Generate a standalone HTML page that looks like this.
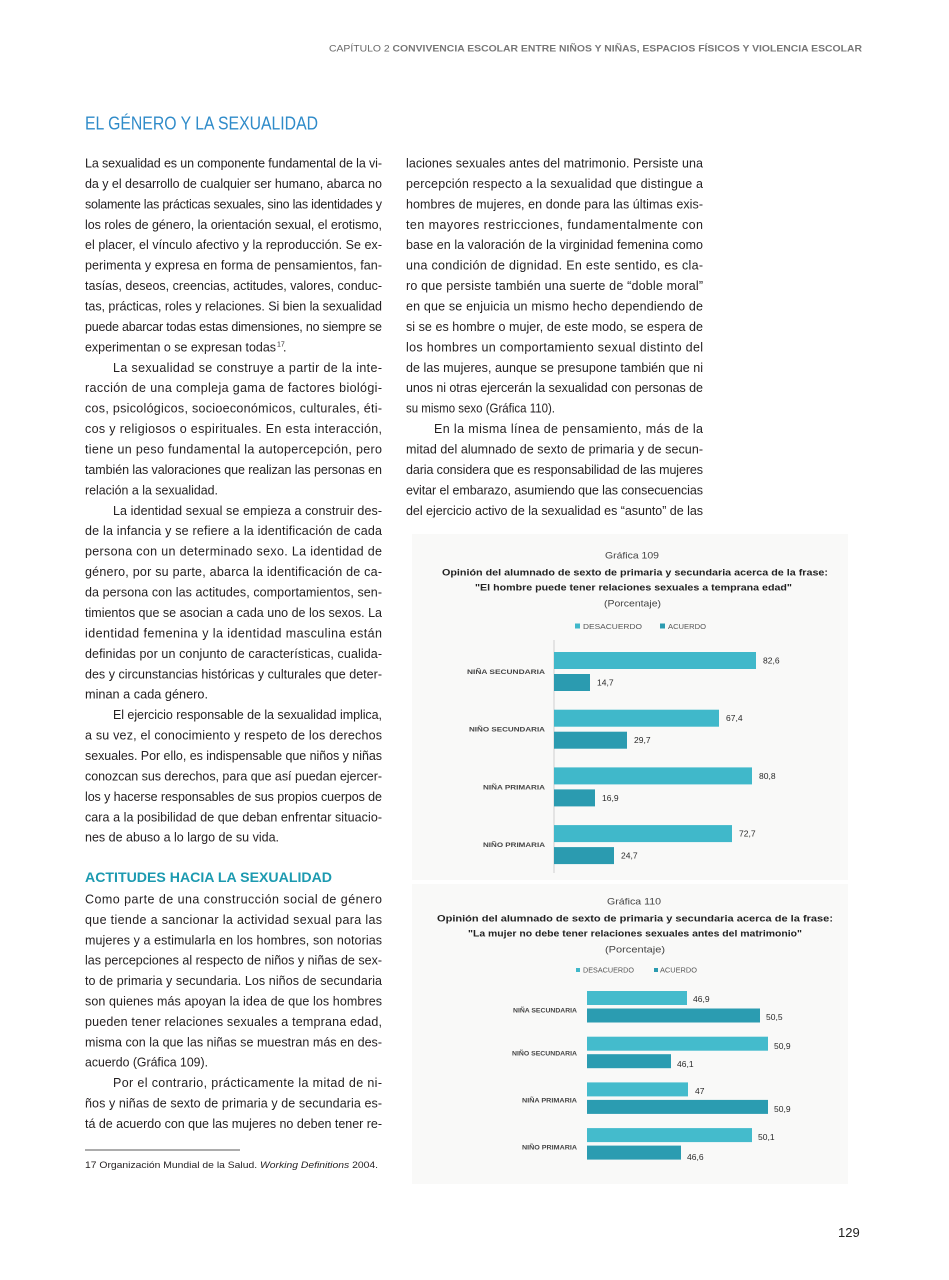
<!DOCTYPE html>
<html><head><meta charset="utf-8"><style>
html,body{margin:0;padding:0;background:#fff;}
svg{display:block;}
text{font-family:"Liberation Sans",sans-serif;}
.b{font-size:12.5px;fill:#231f20;}
.cl{font-size:6.8px;font-weight:bold;fill:#444;}
.v{font-size:8.5px;fill:#2a2a2a;}
</style></head><body>
<svg width="949" height="1280" viewBox="0 0 949 1280" xmlns="http://www.w3.org/2000/svg">
<rect width="949" height="1280" fill="#fff"/>
<!-- header -->
<text x="329" y="51.5" font-size="9.5" fill="#666" textLength="533" lengthAdjust="spacingAndGlyphs">CAPÍTULO 2 <tspan font-weight="bold" fill="#777">CONVIVENCIA ESCOLAR ENTRE NIÑOS Y NIÑAS, ESPACIOS FÍSICOS Y VIOLENCIA ESCOLAR</tspan></text>
<text x="85" y="129.5" font-size="18" fill="#2f8bc9" textLength="233" lengthAdjust="spacingAndGlyphs">EL GÉNERO Y LA SEXUALIDAD</text>

<!-- left column -->
<g class="b">
<text x="85" y="167.5" textLength="297" lengthAdjust="spacing">La sexualidad es un componente fundamental de la vi-</text>
<text x="85" y="187.9" textLength="297" lengthAdjust="spacing">da y el desarrollo de cualquier ser humano, abarca no</text>
<text x="85" y="208.4" textLength="297" lengthAdjust="spacing">solamente las prácticas sexuales, sino las identidades y</text>
<text x="85" y="228.8" textLength="297" lengthAdjust="spacing">los roles de género, la orientación sexual, el erotismo,</text>
<text x="85" y="249.2" textLength="297" lengthAdjust="spacing">el placer, el vínculo afectivo y la reproducción. Se ex-</text>
<text x="85" y="269.7" textLength="297" lengthAdjust="spacing">perimenta y expresa en forma de pensamientos, fan-</text>
<text x="85" y="290.1" textLength="297" lengthAdjust="spacing">tasías, deseos, creencias, actitudes, valores, conduc-</text>
<text x="85" y="310.5" textLength="297" lengthAdjust="spacing">tas, prácticas, roles y relaciones. Si bien la sexualidad</text>
<text x="85" y="330.9" textLength="297" lengthAdjust="spacing">puede abarcar todas estas dimensiones, no siempre se</text>
<text x="85" y="351.4" textLength="191" lengthAdjust="spacingAndGlyphs">experimentan o se expresan todas</text>
<text x="277" y="346.5" font-size="7">17</text><text x="283" y="351.4">.</text>

<text x="113" y="371.8" textLength="269" lengthAdjust="spacing">La sexualidad se construye a partir de la inte-</text>
<text x="85" y="392.2" textLength="297" lengthAdjust="spacing">racción de una compleja gama de factores biológi-</text>
<text x="85" y="412.7" textLength="297" lengthAdjust="spacing">cos, psicológicos, socioeconómicos, culturales, éti-</text>
<text x="85" y="433.1" textLength="297" lengthAdjust="spacing">cos y religiosos o espirituales. En esta interacción,</text>
<text x="85" y="453.5" textLength="297" lengthAdjust="spacing">tiene un peso fundamental la autopercepción, pero</text>
<text x="85" y="474.0" textLength="297" lengthAdjust="spacing">también las valoraciones que realizan las personas en</text>
<text x="85" y="494.4" textLength="133" lengthAdjust="spacingAndGlyphs">relación a la sexualidad.</text>

<text x="113" y="514.8" textLength="269" lengthAdjust="spacing">La identidad sexual se empieza a construir des-</text>
<text x="85" y="535.2" textLength="297" lengthAdjust="spacing">de la infancia y se refiere a la identificación de cada</text>
<text x="85" y="555.7" textLength="297" lengthAdjust="spacing">persona con un determinado sexo. La identidad de</text>
<text x="85" y="576.1" textLength="297" lengthAdjust="spacing">género, por su parte, abarca la identificación de ca-</text>
<text x="85" y="596.5" textLength="297" lengthAdjust="spacing">da persona con las actitudes, comportamientos, sen-</text>
<text x="85" y="617.0" textLength="297" lengthAdjust="spacing">timientos que se asocian a cada uno de los sexos. La</text>
<text x="85" y="637.4" textLength="297" lengthAdjust="spacing">identidad femenina y la identidad masculina están</text>
<text x="85" y="657.8" textLength="297" lengthAdjust="spacing">definidas por un conjunto de características, cualida-</text>
<text x="85" y="678.3" textLength="297" lengthAdjust="spacing">des y circunstancias históricas y culturales que deter-</text>
<text x="85" y="698.7" textLength="123" lengthAdjust="spacingAndGlyphs">minan a cada género.</text>

<text x="113" y="719.1" textLength="269" lengthAdjust="spacing">El ejercicio responsable de la sexualidad implica,</text>
<text x="85" y="739.5" textLength="297" lengthAdjust="spacing">a su vez, el conocimiento y respeto de los derechos</text>
<text x="85" y="760.0" textLength="297" lengthAdjust="spacing">sexuales. Por ello, es indispensable que niños y niñas</text>
<text x="85" y="780.4" textLength="297" lengthAdjust="spacing">conozcan sus derechos, para que así puedan ejercer-</text>
<text x="85" y="800.8" textLength="297" lengthAdjust="spacing">los y hacerse responsables de sus propios cuerpos de</text>
<text x="85" y="821.3" textLength="297" lengthAdjust="spacing">cara a la posibilidad de que deban enfrentar situacio-</text>
<text x="85" y="841.7" textLength="194" lengthAdjust="spacingAndGlyphs">nes de abuso a lo largo de su vida.</text>
</g>

<text x="85" y="882" font-size="13.5" font-weight="bold" fill="#1c9ab0" textLength="247" lengthAdjust="spacingAndGlyphs">ACTITUDES HACIA LA SEXUALIDAD</text>

<g class="b">
<text x="85" y="903.5" textLength="297" lengthAdjust="spacing">Como parte de una construcción social de género</text>
<text x="85" y="923.9" textLength="297" lengthAdjust="spacing">que tiende a sancionar la actividad sexual para las</text>
<text x="85" y="944.3" textLength="297" lengthAdjust="spacing">mujeres y a estimularla en los hombres, son notorias</text>
<text x="85" y="964.7" textLength="297" lengthAdjust="spacing">las percepciones al respecto de niños y niñas de sex-</text>
<text x="85" y="985.1" textLength="297" lengthAdjust="spacing">to de primaria y secundaria. Los niños de secundaria</text>
<text x="85" y="1005.5" textLength="297" lengthAdjust="spacing">son quienes más apoyan la idea de que los hombres</text>
<text x="85" y="1025.9" textLength="297" lengthAdjust="spacing">pueden tener relaciones sexuales a temprana edad,</text>
<text x="85" y="1046.3" textLength="297" lengthAdjust="spacing">misma con la que las niñas se muestran más en des-</text>
<text x="85" y="1066.7" textLength="123" lengthAdjust="spacingAndGlyphs">acuerdo (Gráfica 109).</text>
<text x="113" y="1087.1" textLength="269" lengthAdjust="spacing">Por el contrario, prácticamente la mitad de ni-</text>
<text x="85" y="1107.5" textLength="297" lengthAdjust="spacing">ños y niñas de sexto de primaria y de secundaria es-</text>
<text x="85" y="1127.9" textLength="297" lengthAdjust="spacing">tá de acuerdo con que las mujeres no deben tener re-</text>
</g>

<line x1="85" y1="1150" x2="240" y2="1150" stroke="#222" stroke-width="0.8"/>
<text x="85" y="1168" font-size="9.5" fill="#231f20" textLength="293" lengthAdjust="spacingAndGlyphs">17 Organización Mundial de la Salud. <tspan font-style="italic">Working Definitions</tspan> 2004.</text>

<!-- right column -->
<g class="b">
<text x="406" y="167.5" textLength="297" lengthAdjust="spacing">laciones sexuales antes del matrimonio. Persiste una</text>
<text x="406" y="187.9" textLength="297" lengthAdjust="spacing">percepción respecto a la sexualidad que distingue a</text>
<text x="406" y="208.4" textLength="297" lengthAdjust="spacing">hombres de mujeres, en donde para las últimas exis-</text>
<text x="406" y="228.8" textLength="297" lengthAdjust="spacing">ten mayores restricciones, fundamentalmente con</text>
<text x="406" y="249.2" textLength="297" lengthAdjust="spacing">base en la valoración de la virginidad femenina como</text>
<text x="406" y="269.7" textLength="297" lengthAdjust="spacing">una condición de dignidad. En este sentido, es cla-</text>
<text x="406" y="290.1" textLength="297" lengthAdjust="spacing">ro que persiste también una suerte de “doble moral”</text>
<text x="406" y="310.5" textLength="297" lengthAdjust="spacing">en que se enjuicia un mismo hecho dependiendo de</text>
<text x="406" y="330.9" textLength="297" lengthAdjust="spacing">si se es hombre o mujer, de este modo, se espera de</text>
<text x="406" y="351.4" textLength="297" lengthAdjust="spacing">los hombres un comportamiento sexual distinto del</text>
<text x="406" y="371.8" textLength="297" lengthAdjust="spacing">de las mujeres, aunque se presupone también que ni</text>
<text x="406" y="392.2" textLength="297" lengthAdjust="spacing">unos ni otras ejercerán la sexualidad con personas de</text>
<text x="406" y="412.7" textLength="149" lengthAdjust="spacingAndGlyphs">su mismo sexo (Gráfica 110).</text>
<text x="434" y="433.1" textLength="269" lengthAdjust="spacing">En la misma línea de pensamiento, más de la</text>
<text x="406" y="453.5" textLength="297" lengthAdjust="spacing">mitad del alumnado de sexto de primaria y de secun-</text>
<text x="406" y="474.0" textLength="297" lengthAdjust="spacing">daria considera que es responsabilidad de las mujeres</text>
<text x="406" y="494.4" textLength="297" lengthAdjust="spacing">evitar el embarazo, asumiendo que las consecuencias</text>
<text x="406" y="514.8" textLength="297" lengthAdjust="spacing">del ejercicio activo de la sexualidad es “asunto” de las</text>
</g>

<!-- chart 109 -->
<rect x="412" y="534" width="436" height="346" fill="#f9f9f8"/>
<text x="605" y="558.5" font-size="9.5" fill="#444" textLength="54" lengthAdjust="spacingAndGlyphs">Gráfica 109</text>
<text x="442" y="575.5" font-size="9.5" font-weight="bold" fill="#222" textLength="386" lengthAdjust="spacingAndGlyphs">Opinión del alumnado de sexto de primaria y secundaria acerca de la frase:</text>
<text x="475" y="590.5" font-size="9.5" font-weight="bold" fill="#222" textLength="317" lengthAdjust="spacingAndGlyphs">"El hombre puede tener relaciones sexuales a temprana edad"</text>
<text x="604" y="606.5" font-size="9.5" fill="#444" textLength="57" lengthAdjust="spacingAndGlyphs">(Porcentaje)</text>
<rect x="575" y="623.5" width="5" height="5" fill="#40b8ca"/>
<text x="583" y="629" font-size="7.5" fill="#555" textLength="59" lengthAdjust="spacingAndGlyphs">DESACUERDO</text>
<rect x="660" y="623.5" width="5" height="5" fill="#2b9bb0"/>
<text x="668" y="629" font-size="7.5" fill="#555" textLength="38" lengthAdjust="spacingAndGlyphs">ACUERDO</text>
<line x1="554" y1="640" x2="554" y2="873" stroke="#cfcfcf" stroke-width="1"/>
<g>
<rect x="554" y="652" width="202" height="17" fill="#40b8ca"/>
<rect x="554" y="674" width="36" height="17" fill="#2b9bb0"/>
<rect x="554" y="709.7" width="165" height="17" fill="#40b8ca"/>
<rect x="554" y="731.7" width="73" height="17" fill="#2b9bb0"/>
<rect x="554" y="767.4" width="198" height="17" fill="#40b8ca"/>
<rect x="554" y="789.4" width="41" height="17" fill="#2b9bb0"/>
<rect x="554" y="825.1" width="178" height="17" fill="#40b8ca"/>
<rect x="554" y="847.1" width="60" height="17" fill="#2b9bb0"/>
</g>
<g class="v">
<text x="763" y="663.5">82,6</text>
<text x="597" y="685.5">14,7</text>
<text x="726" y="721">67,4</text>
<text x="634" y="743">29,7</text>
<text x="759" y="779">80,8</text>
<text x="602" y="801">16,9</text>
<text x="739" y="836.5">72,7</text>
<text x="621" y="858.5">24,7</text>
</g>
<g class="cl">
<text x="467" y="674" textLength="78" lengthAdjust="spacingAndGlyphs">NIÑA SECUNDARIA</text>
<text x="469" y="731.5" textLength="76" lengthAdjust="spacingAndGlyphs">NIÑO SECUNDARIA</text>
<text x="483" y="789.5" textLength="62" lengthAdjust="spacingAndGlyphs">NIÑA PRIMARIA</text>
<text x="483" y="847" textLength="62" lengthAdjust="spacingAndGlyphs">NIÑO PRIMARIA</text>
</g>

<!-- chart 110 -->
<rect x="412" y="884" width="436" height="300" fill="#f9f9f8"/>
<text x="607" y="904.5" font-size="9.5" fill="#444" textLength="54" lengthAdjust="spacingAndGlyphs">Gráfica 110</text>
<text x="437" y="921.5" font-size="9.5" font-weight="bold" fill="#222" textLength="396" lengthAdjust="spacingAndGlyphs">Opinión del alumnado de sexto de primaria y secundaria acerca de la frase:</text>
<text x="468" y="936.5" font-size="9.5" font-weight="bold" fill="#222" textLength="334" lengthAdjust="spacingAndGlyphs">"La mujer no debe tener relaciones sexuales antes del matrimonio"</text>
<text x="605" y="952.5" font-size="9.5" fill="#444" textLength="60" lengthAdjust="spacingAndGlyphs">(Porcentaje)</text>
<rect x="576" y="968" width="4" height="4" fill="#40b8ca"/>
<text x="583" y="972.5" font-size="7" fill="#555" textLength="51" lengthAdjust="spacingAndGlyphs">DESACUERDO</text>
<rect x="654" y="968" width="4" height="4" fill="#2b9bb0"/>
<text x="660" y="972.5" font-size="7" fill="#555" textLength="37" lengthAdjust="spacingAndGlyphs">ACUERDO</text>
<g>
<rect x="587" y="991" width="100" height="14" fill="#44bbcc"/>
<rect x="587" y="1008.5" width="173" height="14" fill="#2b9cb1"/>
<rect x="587" y="1036.7" width="181" height="14" fill="#44bbcc"/>
<rect x="587" y="1054.2" width="84" height="14" fill="#2b9cb1"/>
<rect x="587" y="1082.4" width="101" height="14" fill="#44bbcc"/>
<rect x="587" y="1099.9" width="181" height="14" fill="#2b9cb1"/>
<rect x="587" y="1128.1" width="165" height="14" fill="#44bbcc"/>
<rect x="587" y="1145.6" width="94" height="14" fill="#2b9cb1"/>
</g>
<g class="v">
<text x="693" y="1002">46,9</text>
<text x="766" y="1020">50,5</text>
<text x="774" y="1049">50,9</text>
<text x="677" y="1067">46,1</text>
<text x="695" y="1094">47</text>
<text x="774" y="1112">50,9</text>
<text x="758" y="1140">50,1</text>
<text x="687" y="1160">46,6</text>
</g>
<g class="cl">
<text x="513" y="1012.5" font-size="6.2" textLength="64" lengthAdjust="spacingAndGlyphs">NIÑA SECUNDARIA</text>
<text x="512" y="1055.5" font-size="6.2" textLength="65" lengthAdjust="spacingAndGlyphs">NIÑO SECUNDARIA</text>
<text x="522" y="1102.5" font-size="6.2" textLength="55" lengthAdjust="spacingAndGlyphs">NIÑA PRIMARIA</text>
<text x="522" y="1149.5" font-size="6.2" textLength="55" lengthAdjust="spacingAndGlyphs">NIÑO PRIMARIA</text>
</g>

<text x="838" y="1237" font-size="13" fill="#222">129</text>
</svg>
</body></html>
